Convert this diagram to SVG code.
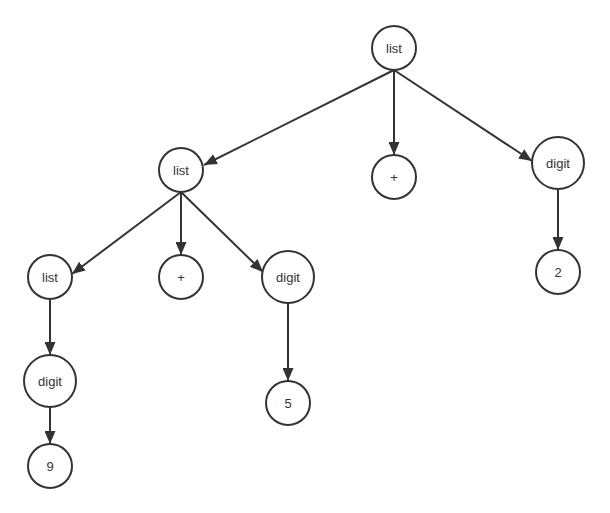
<svg xmlns="http://www.w3.org/2000/svg" width="610" height="513" viewBox="0 0 610 513">
<style>
.n circle{fill:#fff;stroke:#333;stroke-width:2}
.n text{font-family:"Liberation Sans","Noto Sans",sans-serif;font-size:13px;fill:#333;text-anchor:middle;dominant-baseline:central}
.e line{stroke:#333;stroke-width:2;marker-end:url(#ah)}
</style>
<defs>
<marker id="ah" markerUnits="userSpaceOnUse" markerWidth="13" markerHeight="11" refX="13" refY="5.5" orient="auto">
<path d="M0,0 L13,5.5 L0,11 z" fill="#333"/>
</marker>
</defs>
<g id="edges" class="e">
<line x1="394" y1="70" x2="204" y2="165"/>
<line x1="394" y1="70" x2="394" y2="155"/>
<line x1="394" y1="70" x2="532" y2="161"/>
<line x1="181" y1="192" x2="72" y2="274"/>
<line x1="181" y1="192" x2="181" y2="255"/>
<line x1="181" y1="192" x2="263" y2="272"/>
<line x1="50" y1="300" x2="50" y2="355"/>
<line x1="50" y1="407" x2="50" y2="444"/>
<line x1="288" y1="303" x2="288" y2="381"/>
<line x1="558" y1="189" x2="558" y2="250"/>
</g>
<g id="n-root" class="n"><circle cx="394" cy="48" r="22"/><text x="394" y="48">list</text></g>
<g id="n-list1" class="n"><circle cx="181" cy="170" r="22"/><text x="181" y="170">list</text></g>
<g id="n-plus1" class="n"><circle cx="394" cy="177" r="22"/><text x="394" y="177">+</text></g>
<g id="n-digit1" class="n"><circle cx="558" cy="163" r="26"/><text x="558" y="163">digit</text></g>
<g id="n-list2" class="n"><circle cx="50" cy="277" r="22"/><text x="50" y="277">list</text></g>
<g id="n-plus2" class="n"><circle cx="181" cy="277" r="22"/><text x="181" y="277">+</text></g>
<g id="n-digit2" class="n"><circle cx="288" cy="277" r="26"/><text x="288" y="277">digit</text></g>
<g id="n-two" class="n"><circle cx="558" cy="272" r="22"/><text x="558" y="272">2</text></g>
<g id="n-digit3" class="n"><circle cx="50" cy="381" r="26"/><text x="50" y="381">digit</text></g>
<g id="n-five" class="n"><circle cx="288" cy="403" r="22"/><text x="288" y="403">5</text></g>
<g id="n-nine" class="n"><circle cx="50" cy="466" r="22"/><text x="50" y="466">9</text></g>
</svg>
